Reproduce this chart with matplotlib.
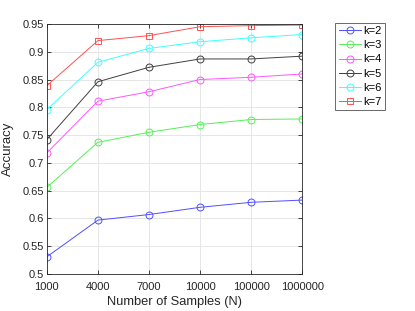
import matplotlib
matplotlib.use("Agg")
import matplotlib.pyplot as plt

plt.rcParams['font.family'] = ['Liberation Sans', 'DejaVu Sans']

x_labels = ['1000', '4000', '7000', '10000', '100000', '1000000']
k2 = [0.531, 0.597, 0.607, 0.620, 0.629, 0.633]
k3 = [0.656, 0.737, 0.755, 0.769, 0.778, 0.779]
k4 = [0.718, 0.811, 0.828, 0.850, 0.854, 0.860]
k5 = [0.742, 0.846, 0.872, 0.887, 0.887, 0.892]
k6 = [0.796, 0.881, 0.906, 0.918, 0.925, 0.931]
k7 = [0.839, 0.920, 0.929, 0.945, 0.947, 0.948]
series = [('k=2', k2, '#5050ff', 'o'), ('k=3', k3, '#55f055', 'o'),
          ('k=4', k4, '#ff55ff', 'o'), ('k=5', k5, '#404040', 'o'),
          ('k=6', k6, '#40ffff', 'o'), ('k=7', k7, '#ff5050', 's')]

fig = plt.figure(figsize=(4.15, 3.11), dpi=100)
ax = fig.add_axes([0.113, 0.119, 0.615, 0.804])
xs = list(range(len(x_labels)))
for name, vals, c, m in series:
    ax.plot(xs, vals, color=c, marker=m, markersize=5 if m == 'o' else 4.5,
            markerfacecolor='none', markeredgecolor=c, linewidth=0.7,
            markeredgewidth=0.7, label=name)

ax.set_xlim(0, 5)
ax.set_ylim(0.5, 0.95)
ax.set_xticks(xs)
ax.set_xticklabels(x_labels)
ax.set_yticks([0.5, 0.55, 0.6, 0.65, 0.7, 0.75, 0.8, 0.85, 0.9, 0.95])
ax.set_yticklabels(['0.5', '0.55', '0.6', '0.65', '0.7', '0.75', '0.8', '0.85', '0.9', '0.95'])
ax.grid(True, color='#e6e6e6', linewidth=0.7)
ax.set_axisbelow(True)
ax.tick_params(direction='in', length=3, width=0.6, colors='#262626', labelsize=8,
               top=True, right=True, labeltop=False, labelright=False)
ax.tick_params(axis='x', pad=6)
ax.tick_params(axis='y', pad=2)
for s in ax.spines.values():
    s.set_color('#262626')
    s.set_linewidth(0.6)
ax.set_xlabel('Number of Samples (N)', fontsize=9.3, color='#262626', labelpad=3)
ax.set_ylabel('Accuracy', fontsize=9.5, color='#262626', labelpad=6)

leg = ax.legend(loc='upper left', bbox_to_anchor=(1.13, 1.005), fontsize=8,
                frameon=True, fancybox=False, handlelength=2.0, handletextpad=0.2,
                borderpad=0.3, labelspacing=0.38, borderaxespad=0)
leg.get_frame().set_edgecolor('#262626')
leg.get_frame().set_linewidth(0.6)

fig.savefig('out.png', dpi=100)
